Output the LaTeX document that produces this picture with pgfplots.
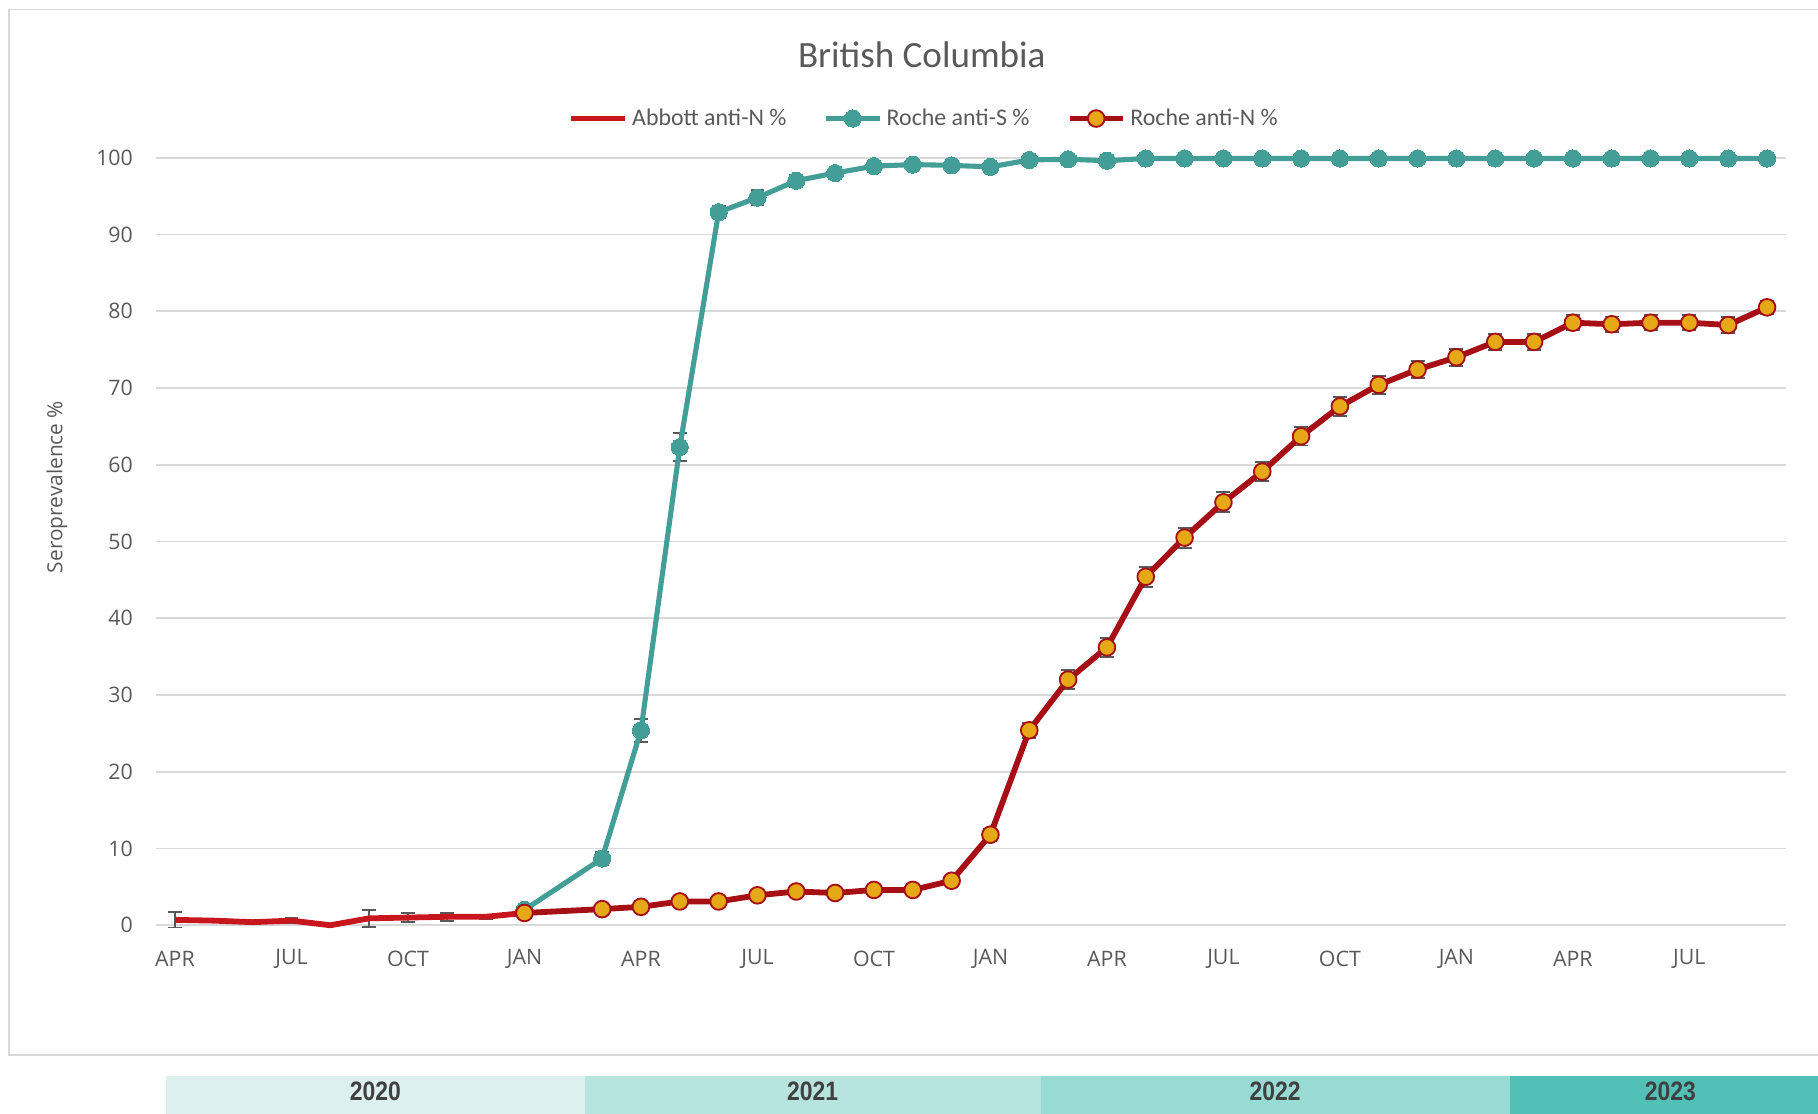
\documentclass[border=0pt]{standalone}
\usepackage{fontspec}
\setmainfont{Carlito}
\newfontfamily\osans{Open Sans}
\newfontfamily\lsans{Liberation Sans}
\usepackage{pgfplots}
\pgfplotsset{compat=1.18}
\usepackage{pgfplotstable}

\definecolor{tealc}{HTML}{449E98}
\definecolor{abbred}{HTML}{C8161E}
\definecolor{rocred}{HTML}{A50F15}
\definecolor{rocfill}{HTML}{E6A817}
\definecolor{gridc}{HTML}{D9D9D9}
\definecolor{txt}{HTML}{595959}
\definecolor{barc}{HTML}{595959}
\definecolor{yr20}{HTML}{DCF1EF}
\definecolor{yr21}{HTML}{B8E4E0}
\definecolor{yr22}{HTML}{98DAD4}
\definecolor{yr23}{HTML}{52C0B7}
\definecolor{yrtxt}{HTML}{404040}

% month index: 0 = APR 2020
\pgfplotstableread{
x y e
0 0.7 1.0
1 0.6 0
2 0.4 0
3 0.6 0.3
4 0.0 0
5 0.9 1.1
6 1.0 0.6
7 1.1 0.5
8 1.1 0.3
9 1.6 0
}\abbott

\pgfplotstableread{
x y e
9 2.0 0.3
11 8.7 0.8
12 25.4 1.5
13 62.3 1.8
14 92.9 0.8
15 94.8 1.0
16 97.0 0.8
17 98.0 0.5
18 98.9 0.4
19 99.1 0.3
20 99.0 0.3
21 98.8 0.3
22 99.7 0.2
23 99.8 0.2
24 99.6 0.2
25 99.9 0.1
26 99.9 0.1
27 99.9 0.1
28 99.9 0.1
29 99.9 0.1
30 99.9 0.1
31 99.9 0.1
32 99.9 0.1
33 99.9 0.1
34 99.9 0.1
35 99.9 0.1
36 99.9 0.1
37 99.9 0.1
38 99.9 0.1
39 99.9 0.1
40 99.9 0.1
41 99.9 0.1
}\rocheS

\pgfplotstableread{
x y e
9 1.6 0.3
11 2.1 0.3
12 2.4 0.3
13 3.1 0.3
14 3.1 0.3
15 3.9 0.4
16 4.4 0.4
17 4.2 0.4
18 4.6 0.4
19 4.6 0.4
20 5.8 0.5
21 11.8 0.8
22 25.4 1.0
23 32.0 1.2
24 36.2 1.2
25 45.4 1.3
26 50.5 1.3
27 55.1 1.3
28 59.1 1.2
29 63.7 1.2
30 67.6 1.2
31 70.4 1.2
32 72.4 1.1
33 74.0 1.1
34 76.0 1.0
35 76.0 1.0
36 78.5 1.0
37 78.3 1.0
38 78.5 1.0
39 78.5 1.0
40 78.2 1.0
41 80.5 0.9
}\rocheN

\pgfplotsset{
    errs/.style={forget plot, only marks, mark=*, mark size=0pt,
        error bars/.cd, y dir=both, y explicit,
        error bar style={barc, line width=0.8pt},
        error mark=-,
        error mark options={barc, line width=0.8pt, mark size=3pt, rotate=90}},
}

\begin{document}
\begin{tikzpicture}
\useasboundingbox (-67.1pt,-81pt) rectangle (716.9pt,399pt);
\begin{axis}[
    at={(0,0)}, anchor=south west,
    scale only axis,
    width=703.3pt, height=331pt,
    xmin=-0.5, xmax=41.5,
    ymin=0, ymax=100,
    clip=false,
    axis line style={draw=none},
    major tick length=0pt,
    ymajorgrids,
    grid style={gridc, line width=0.75pt},
    ytick={0,10,...,100},
    xtick={0,3,...,39},
    xticklabels={APR,JUL,OCT,JAN,APR,JUL,OCT,JAN,APR,JUL,OCT,JAN,APR,JUL},
    /pgf/number format/assume math mode=true,
    ticklabel style={font=\osans\fontsize{9.2}{11}\selectfont, text=txt, inner sep=0pt},
    yticklabel style={anchor=east, xshift=-9.6pt},
    xticklabel style={anchor=center, yshift=-14.5pt},
    legend columns=-1,
    legend cell align=left,
    legend style={at={(0.472,1.051)}, anchor=center, draw=none, fill=none,
        font=\fontsize{10.3}{12}\selectfont, text=txt, inner sep=0pt,
        /tikz/every even column/.append style={column sep=14pt}},
    legend image code/.code={
        \draw[#1, mark repeat=2, mark phase=2] plot coordinates {(0pt,0pt) (11.5pt,0pt) (23pt,0pt)};
    },
]
% chart frame and year band
\draw[gridc, line width=0.75pt] (axis cs:-4.27,119.3) rectangle (axis cs:44,-16.9);
\fill[yr20] (axis cs:-0.24,-19.64) rectangle (axis cs:10.57,-25);
\fill[yr21] (axis cs:10.57,-19.64) rectangle (axis cs:22.30,-25);
\fill[yr22] (axis cs:22.30,-19.64) rectangle (axis cs:34.37,-25);
\fill[yr23] (axis cs:34.37,-19.64) rectangle (axis cs:43,-25);

% error bars underneath the lines
\addplot[errs] table[x=x, y=y, y error=e] {\abbott};
\addplot[errs] table[x=x, y=y, y error=e] {\rocheS};
\addplot[errs] table[x=x, y=y, y error=e] {\rocheN};

\addplot[abbred, line width=2.5pt, line join=round, mark=none]
    table[x=x, y=y] {\abbott};
\addlegendentry{Abbott anti-N \%}
\addplot[tealc, line width=2.2pt, line join=round, mark=*, mark size=3.7pt,
    mark options={fill=tealc, draw=tealc, line width=0pt}]
    table[x=x, y=y] {\rocheS};
\addlegendentry{Roche anti-S \%}
\addplot[rocred, line width=2.5pt, line join=round, mark=*, mark size=3.6pt,
    mark options={fill=rocfill, draw=rocred, line width=0.8pt}]
    table[x=x, y=y] {\rocheN};
\addlegendentry{Roche anti-N \%}

\node[font=\fontsize{16}{19}\selectfont, text=txt] at (axis description cs:0.4698,1.134) {British Columbia};
\node[rotate=90, font=\osans\fontsize{9}{10}\selectfont, text=txt] at (axis description cs:-0.0605,0.571) {Seroprevalence \%};

\node[font=\lsans\bfseries\fontsize{11.5}{13}\selectfont, text=yrtxt, xscale=0.86] at (axis cs:5.16,-21.6) {2020};
\node[font=\lsans\bfseries\fontsize{11.5}{13}\selectfont, text=yrtxt, xscale=0.86] at (axis cs:16.42,-21.6) {2021};
\node[font=\lsans\bfseries\fontsize{11.5}{13}\selectfont, text=yrtxt, xscale=0.86] at (axis cs:28.33,-21.6) {2022};
\node[font=\lsans\bfseries\fontsize{11.5}{13}\selectfont, text=yrtxt, xscale=0.86] at (axis cs:38.51,-21.6) {2023};
\end{axis}
\end{tikzpicture}
\end{document}
